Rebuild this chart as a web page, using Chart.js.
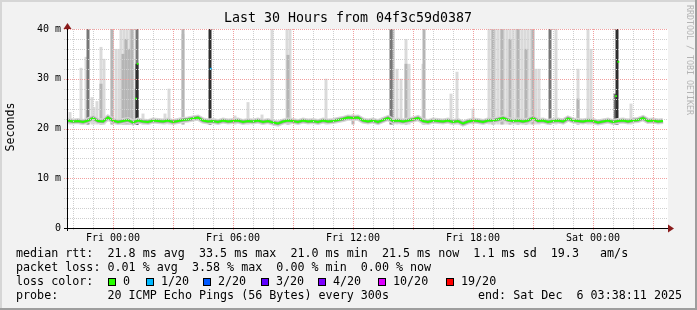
<!DOCTYPE html>
<html>
<head>
<meta charset="utf-8">
<script src="https://cdn.jsdelivr.net/npm/chart.js@4/dist/chart.umd.min.js"></script>
<style>
  html, body { margin: 0; padding: 0; background: #f2f2f2; }
  canvas { display: block; }
</style>
</head>
<body>
<canvas id="c" width="697" height="310"></canvas>
<script>
// all times are minutes relative to Fri 00:00
const xMin = -138, xMax = 1665;
const tickTimes = [0, 360, 720, 1080, 1440];
const tickLabels = ['Fri 00:00', 'Fri 06:00', 'Fri 12:00', 'Fri 18:00', 'Sat 00:00'];

// median rtt (ms), one sample every 15 min starting at medStart
const medStart = -135, medStep = 15;
const medianMs = [
  21.6, 21.4, 21.5, 21.3, 21.6, 22.1, 21.5, 21.4, 22.2, 21.6,
  21.3, 21.5, 21.7, 21.2, 21.6, 21.4, 21.3, 21.6, 21.5, 21.4,
  21.6, 21.3, 21.5, 21.7, 21.8, 22.0, 22.2, 21.6, 21.4, 21.5,
  21.3, 21.6, 21.4, 21.5, 21.6, 21.3, 21.5, 21.4, 21.6, 21.3,
  21.5, 21.2, 21.0, 21.4, 21.6, 21.5, 21.3, 21.6, 21.4, 21.5,
  21.3, 21.6, 21.4, 21.5, 21.7, 21.9, 22.2, 22.1, 22.2, 21.6,
  21.4, 21.6, 21.3, 21.7, 22.1, 21.5, 21.6, 21.4, 21.6, 21.8,
  22.1, 21.5, 21.3, 21.6, 21.5, 21.4, 21.6, 21.3, 21.5, 21.0,
  21.4, 21.6, 21.5, 21.3, 21.6, 21.6, 21.8, 22.1, 21.7, 21.5,
  21.6, 21.4, 21.6, 22.1, 21.5, 21.6, 21.3, 21.5, 21.6, 21.4,
  22.0, 21.6, 21.5, 21.4, 21.6, 21.5, 21.2, 21.4, 21.6, 21.3,
  21.5, 21.6, 21.4, 21.6, 21.7, 22.1, 21.5, 21.6, 21.4, 21.5
];

// short median excursions during the spikes, with their loss class
const peakTimes = [69, 74, 293, 1509, 1516];
const peakMs = [26.0, 33.0, 32.0, 26.5, 33.4];
const peakLoss = [0, 0, 1, 0, 0];

// smoke (spread of the 20 pings), bottom of the smoke and top per shade
const smokeFloor = 20.8;
const lightTimes = [-129, -96, -81, -63, -57, -48, -36, -27, -3, 9,
  18, 24, 33, 42, 51, 60, 90, 156, 168, 210,
  366, 405, 447, 477, 522, 531, 639, 852, 864, 879,
  888, 930, 1014, 1032, 1080,
  1128, 1137, 1146, 1155, 1164, 1173, 1182, 1191, 1200, 1209, 1218, 1227, 1236, 1245, 1254,
  1269, 1278, 1329, 1395, 1425, 1434, 1554];
const lightTops = [23.3, 32.2, 34.4, 26.3, 24.3, 25.5, 36.4, 34.0, 40, 36.0,
  36.0, 40, 40, 40, 40, 40, 23.0, 23.0, 28.0, 39.0,
  22.6, 25.3, 22.8, 40, 40, 40, 30.0, 32.0, 30.0, 38.0,
  33.0, 33.0, 27.0, 31.4, 24.0,
  40, 40, 40, 40, 40, 40, 40, 40, 40, 40, 40, 40, 40, 40, 40,
  32.0, 32.0, 40, 32.0, 40, 36.0, 25.0];
const midTimes = [-36, -3, 30, 39, 48, 57, 69, 210, 525, 720, 840, 879, 933, 1140, 1167, 1191, 1215, 1239, 1260, 1395];
const midTops = [29.0, 40, 35.0, 38.0, 36.0, 40, 28.0, 40, 34.8, 22.8, 40, 33.0, 40, 40, 40, 38.0, 40, 36.0, 40, 26.0];
const darkTimes = [-75, 72, 834, 1311, 1506];
const darkTops = [40, 40, 40, 40, 27.0];
const blackTimes = [72, 291, 1512];
const blackTops = [33.0, 40, 40];

const lossLabels = ['0', '1/20', '2/20', '3/20', '4/20', '10/20', '19/20'];
const lossColors = ['#26ff00', '#00b8ff', '#0059ff', '#5e00ff', '#7e00ff', '#dd00ff', '#ff0000'];

const rttLine = 'median rtt:  21.8 ms avg  33.5 ms max  21.0 ms min  21.5 ms now  1.1 ms sd  19.3   am/s';
const lossLine = 'packet loss: 0.01 % avg  3.58 % max  0.00 % min  0.00 % now';
const probeLine = 'probe:       20 ICMP Echo Pings (56 Bytes) every 300s';
const endText = 'end: Sat Dec  6 03:38:11 2025';

const mono = '"DejaVu Sans Mono", monospace';
const majorGrid = '#f2a0a0', minorGrid = '#cfcfcf';

function smokeSet(times, tops, color, order) {
  return {
    type: 'bar',
    data: times.map((t, i) => ({ x: t, y: [smokeFloor, tops[i]] })),
    backgroundColor: color,
    barThickness: 3,
    grouped: false,
    borderWidth: 0,
    borderSkipped: false,
    inflateAmount: 0,
    order: order
  };
}

const medianPts = medianMs.map((v, i) => ({ x: medStart + i * medStep, y: v }));

const rrdLook = {
  id: 'rrdLook',
  beforeDraw(chart) {
    const ctx = chart.ctx, ca = chart.chartArea;
    const W = chart.width, H = chart.height;
    ctx.save();
    ctx.fillStyle = '#f2f2f2';
    ctx.fillRect(0, 0, W, H);
    ctx.fillStyle = '#d6d6d6';
    ctx.fillRect(0, 0, W, 2);
    ctx.fillRect(0, 0, 2, H);
    ctx.fillStyle = '#9e9e9e';
    ctx.fillRect(0, H - 2, W, 2);
    ctx.fillRect(W - 2, 0, 2, H);
    ctx.fillStyle = '#ffffff';
    ctx.fillRect(ca.left, ca.top, ca.right - ca.left, ca.bottom - ca.top);
    ctx.restore();
  },
  afterDatasetsDraw(chart) {
    // dotted rrdtool grid, drawn over the smoke
    const ctx = chart.ctx, ca = chart.chartArea;
    const xs = chart.scales.x, ys = chart.scales.y;
    ctx.save();
    ctx.lineWidth = 1;
    ctx.setLineDash([1, 1]);
    for (let t = -120; t <= xMax; t += 60) {
      const px = Math.round(xs.getPixelForValue(t)) + 0.5;
      ctx.strokeStyle = t % 180 === 0 ? majorGrid : minorGrid;
      ctx.beginPath();
      ctx.moveTo(px, ca.top);
      ctx.lineTo(px, ca.bottom + 3);
      ctx.stroke();
    }
    for (let v = 2; v <= 40; v += 2) {
      const py = Math.round(ys.getPixelForValue(v)) + 0.5;
      ctx.strokeStyle = v % 10 === 0 ? majorGrid : minorGrid;
      ctx.beginPath();
      ctx.moveTo(ca.left - 3, py);
      ctx.lineTo(ca.right, py);
      ctx.stroke();
    }
    ctx.restore();
  },
  afterDraw(chart) {
    const ctx = chart.ctx, ca = chart.chartArea;
    ctx.save();
    // axes with arrows
    ctx.fillStyle = '#000';
    ctx.fillRect(ca.left - 3, ca.bottom, ca.right - ca.left + 3, 1);
    ctx.fillRect(ca.left, ca.top, 1, ca.bottom - ca.top + 3);
    ctx.fillStyle = '#8a1c1c';
    ctx.beginPath();
    ctx.moveTo(ca.right, ca.bottom - 3.5);
    ctx.lineTo(ca.right + 6, ca.bottom + 0.5);
    ctx.lineTo(ca.right, ca.bottom + 4.5);
    ctx.closePath();
    ctx.fill();
    ctx.beginPath();
    ctx.moveTo(ca.left - 3.5, ca.top);
    ctx.lineTo(ca.left + 0.5, ca.top - 6);
    ctx.lineTo(ca.left + 4.5, ca.top);
    ctx.closePath();
    ctx.fill();

    ctx.fillStyle = '#000';
    ctx.textBaseline = 'middle';
    ctx.font = '13.3px ' + mono;
    ctx.textAlign = 'center';
    ctx.fillText('Last 30 Hours from 04f3c59d0387', 348, 19);

    ctx.save();
    ctx.translate(11, 127);
    ctx.rotate(-Math.PI / 2);
    ctx.font = '11.6px ' + mono;
    ctx.fillText('Seconds', 0, 0);
    ctx.restore();

    ctx.save();
    ctx.translate(689, 5);
    ctx.rotate(Math.PI / 2);
    ctx.textAlign = 'left';
    ctx.fillStyle = '#b4b4b4';
    ctx.font = '8.3px ' + mono;
    ctx.fillText('RRDTOOL / TOBI OETIKER', 0, 0);
    ctx.restore();

    // legend rows
    ctx.textAlign = 'left';
    ctx.font = '11.7px ' + mono;
    ctx.fillText(rttLine, 16, 254);
    ctx.fillText(lossLine, 16, 268);
    ctx.fillText('loss color:', 16, 282);
    const boxCols = [108, 146, 203, 261, 318, 378, 446];
    lossLabels.forEach((s, i) => {
      const bx = boxCols[i];
      ctx.fillStyle = lossColors[i];
      ctx.fillRect(bx, 278, 8, 8);
      ctx.strokeStyle = '#000';
      ctx.lineWidth = 1;
      ctx.strokeRect(bx + 0.5, 278.5, 7, 7);
      ctx.fillStyle = '#000';
      ctx.fillText(s, bx + 15, 282);
    });
    ctx.fillText(probeLine, 16, 296);
    ctx.fillText(endText, 478, 296);
    ctx.restore();
  }
};

new Chart(document.getElementById('c'), {
  data: {
    datasets: [
      {
        type: 'scatter',
        data: peakTimes.map((t, i) => ({ x: t, y: peakMs[i] })),
        pointStyle: 'rect',
        pointRadius: 1.3,
        pointBorderWidth: 0,
        pointBackgroundColor: peakLoss.map(k => lossColors[k]),
        order: 0
      },
      {
        type: 'line',
        data: medianPts,
        borderColor: lossColors[0],
        borderWidth: 2,
        pointRadius: 0,
        tension: 0,
        order: 1
      },
      {
        type: 'line',
        data: medianPts,
        borderColor: '#a0a0a0',
        borderWidth: 3.5,
        pointRadius: 0,
        tension: 0,
        order: 2
      },
      {
        type: 'line',
        data: medianPts,
        borderColor: '#d6d6d6',
        borderWidth: 6,
        pointRadius: 0,
        tension: 0,
        order: 3
      },
      smokeSet(blackTimes, blackTops, '#2e2e2e', 4),
      smokeSet(darkTimes, darkTops, '#777777', 5),
      smokeSet(midTimes, midTops, '#b5b5b5', 6),
      smokeSet(lightTimes, lightTops, '#dadada', 7)
    ]
  },
  options: {
    responsive: false,
    devicePixelRatio: 1,
    animation: false,
    layout: { padding: { top: 29, right: 29, left: 0, bottom: 0 } },
    plugins: { legend: { display: false }, tooltip: { enabled: false }, title: { display: false } },
    scales: {
      x: {
        type: 'linear',
        offset: false,
        min: xMin,
        max: xMax,
        afterBuildTicks: s => {
          s.ticks = tickTimes.map(t => ({ value: t }));
        },
        afterFit: s => { s.height = 82; },
        ticks: {
          autoSkip: false,
          maxRotation: 0,
          padding: 4,
          color: '#000',
          font: { family: mono, size: 10 },
          callback: v => {
            const k = tickTimes.indexOf(v);
            return k < 0 ? '' : tickLabels[k];
          }
        },
        grid: { display: false, drawTicks: false },
        border: { display: false }
      },
      y: {
        min: 0,
        max: 40,
        afterFit: s => { s.width = 67; },
        ticks: {
          stepSize: 10,
          autoSkip: false,
          padding: 6,
          color: '#000',
          font: { family: mono, size: 10 },
          callback: v => v === 0 ? '0' : v + ' m'
        },
        grid: { display: false, drawTicks: false },
        border: { display: false }
      }
    }
  },
  plugins: [rrdLook]
});
</script>
</body>
</html>
